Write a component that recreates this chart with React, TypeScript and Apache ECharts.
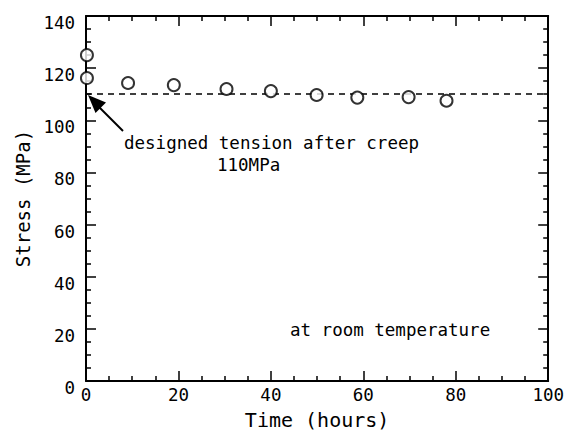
import React, { useEffect, useRef } from "react";
import * as echarts from "echarts";

const timeHours = [0.2, 0.2, 9.1, 19, 30.4, 40, 49.9, 58.7, 69.8, 78];
const stressMPa = [125, 116.2, 114.3, 113.5, 112, 111.2, 109.7, 108.7, 108.9, 107.5];
const designedTension = 110;
const xRange = [0, 100];
const yRange = [0, 140];
const annotationMain = "designed tension after creep";
const annotationValue = "110MPa";
const conditionText = "at room temperature";

const FONT = "DejaVu Sans Mono";

export default function App() {
  const ref = useRef<HTMLDivElement>(null);
  useEffect(() => {
    if (!ref.current) return;
    const chart = echarts.init(ref.current, null, { renderer: "svg" });
    const axisCommon = {
      axisLine: { show: true, onZero: false, lineStyle: { color: "#000", width: 2 } },
      axisTick: { show: true, inside: true, length: 10, lineStyle: { color: "#000", width: 1.5 } },
      minorTick: { show: true, splitNumber: 4, length: 5, lineStyle: { color: "#000", width: 1.5 } },
      splitLine: { show: false },
      minorSplitLine: { show: false },
    };
    chart.setOption({
      animation: false,
      backgroundColor: "#fff",
      grid: { left: 86, right: 18, top: 16, bottom: 56 },
      xAxis: [
        {
          type: "value",
          min: xRange[0],
          max: xRange[1],
          interval: 20,
          position: "bottom",
          ...axisCommon,
          axisLabel: { color: "#000", fontFamily: FONT, fontSize: 17.5, margin: 5 },
          name: "Time (hours)",
          nameLocation: "middle",
          nameGap: 29,
          nameTextStyle: { color: "#000", fontFamily: FONT, fontSize: 20 },
        },
        {
          type: "value",
          min: xRange[0],
          max: xRange[1],
          interval: 20,
          position: "top",
          ...axisCommon,
          axisLabel: { show: false },
        },
      ],
      yAxis: [
        {
          type: "value",
          min: yRange[0],
          max: yRange[1],
          interval: 20,
          position: "left",
          ...axisCommon,
          axisLabel: {
            color: "#000",
            fontFamily: FONT,
            fontSize: 17.5,
            margin: 11,
            verticalAlign: "top",
            lineHeight: 14,
          },
          name: "Stress (MPa)",
          nameLocation: "middle",
          nameGap: 52,
          nameTextStyle: { color: "#000", fontFamily: FONT, fontSize: 19 },
        },
        {
          type: "value",
          min: yRange[0],
          max: yRange[1],
          interval: 20,
          position: "right",
          ...axisCommon,
          axisLabel: { show: false },
        },
      ],
      series: [
        {
          type: "scatter",
          xAxisIndex: 0,
          yAxisIndex: 0,
          symbol: "emptyCircle",
          symbolSize: 12,
          itemStyle: { color: "#000", borderColor: "#000", borderWidth: 1.5 },
          data: timeHours.map((t, i) => [t, stressMPa[i]]),
          z: 3,
          markLine: {
            silent: true,
            symbol: "none",
            label: { show: false },
            lineStyle: { color: "#000", width: 1.5, type: [6, 5] },
            data: [{ yAxis: designedTension }],
            z: 2,
          },
        },
      ],
      graphic: [
        {
          type: "line",
          shape: { x1: 123, y1: 131, x2: 97, y2: 105 },
          style: { stroke: "#000", lineWidth: 2 },
        },
        {
          type: "polygon",
          shape: { points: [[88, 95], [95.5, 113], [106, 102.5]] },
          style: { fill: "#000" },
        },
        {
          type: "text",
          left: 124,
          top: 134,
          style: { text: annotationMain, fill: "#000", font: `17.5px "${FONT}"` },
        },
        {
          type: "text",
          left: 217,
          top: 156,
          style: { text: annotationValue, fill: "#000", font: `17.5px "${FONT}"` },
        },
        {
          type: "text",
          left: 290,
          top: 321,
          style: { text: conditionText, fill: "#000", font: `17.5px "${FONT}"` },
        },
      ],
    });
    return () => chart.dispose();
  }, []);
  return <div ref={ref} style={{ width: 567, height: 437, position: "absolute", left: 0, top: 0 }} />;
}
